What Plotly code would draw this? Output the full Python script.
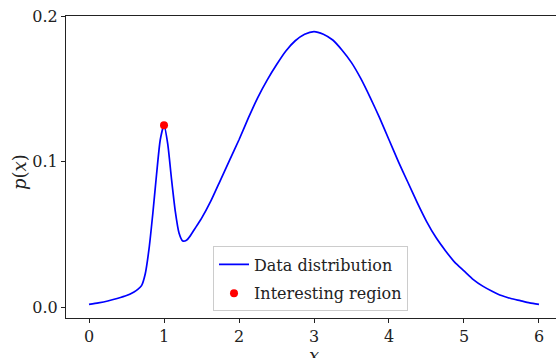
import plotly.graph_objects as go

# values
x_vals = [0.0, 0.125, 0.25, 0.375, 0.5, 0.6, 0.65, 0.7, 0.75, 0.8, 0.85, 0.9, 0.95, 1.0,
          1.05, 1.1, 1.15, 1.2, 1.25, 1.3, 1.35, 1.4, 1.45, 1.5, 1.625, 1.75, 1.875,
          2.0, 2.125, 2.25, 2.375, 2.5, 2.625, 2.75, 2.875, 3.0, 3.125, 3.25, 3.375,
          3.5, 3.625, 3.75, 3.875, 4.0, 4.125, 4.25, 4.375, 4.5, 4.625, 4.75, 4.875,
          5.0, 5.125, 5.25, 5.375, 5.5, 5.625, 5.75, 5.875, 6.0]
p_vals = [0.0020, 0.0030, 0.0043, 0.0060, 0.0080, 0.0105, 0.0122, 0.0148, 0.0230, 0.0400,
          0.0640, 0.0910, 0.1150, 0.1250, 0.1120, 0.0880, 0.0660, 0.0510, 0.0455, 0.0460,
          0.0490, 0.0530, 0.0570, 0.0610, 0.0730, 0.0870, 0.1010, 0.1150, 0.1300, 0.1440,
          0.1560, 0.1665, 0.1760, 0.1830, 0.1875, 0.1893, 0.1875, 0.1835, 0.1765, 0.1680,
          0.1570, 0.1440, 0.1300, 0.1150, 0.1000, 0.0860, 0.0720, 0.0590, 0.0480, 0.0390,
          0.0310, 0.0250, 0.0190, 0.0145, 0.0110, 0.0080, 0.0060, 0.0045, 0.0030, 0.0020]
point_x = [1.0]
point_y = [0.125]
x_ticks = [0, 1, 2, 3, 4, 5, 6]
y_ticks = [0.0, 0.1, 0.2]
y_tick_text = ["0.0", "0.1", "0.2"]

FONT = "DejaVu Serif"

fig = go.Figure()
fig.add_trace(go.Scatter(x=x_vals, y=p_vals, mode="lines", name="Data distribution",
                         legendgroup="a",
                         line=dict(color="#0000ff", width=1.7, shape="spline", smoothing=0.6)))
fig.add_trace(go.Scatter(x=point_x, y=point_y, mode="markers", name="Interesting region",
                         legendgroup="b",
                         marker=dict(color="#ff0000", size=8)))

fig.update_layout(
    width=556, height=358,
    margin=dict(l=66, r=0, t=16, b=40),
    paper_bgcolor="white", plot_bgcolor="white",
    font=dict(family=FONT, size=16, color="#222222"),
    showlegend=True,
    legend=dict(x=0.300, y=0.237, xanchor="left", yanchor="top",
                bgcolor="rgba(255,255,255,0.9)", bordercolor="#cccccc", borderwidth=1,
                font=dict(family=FONT, size=16, color="#222222"),
                tracegroupgap=5),
    xaxis=dict(range=[-0.307, 6.227], tickvals=x_ticks, ticks="outside", ticklen=4,
               tickcolor="#222222", showline=True, linecolor="#222222", linewidth=1.2,
               mirror=True, showgrid=False, zeroline=False,
               tickfont=dict(family=FONT, size=16)),
    yaxis=dict(range=[-0.0074, 0.2], tickvals=y_ticks, ticktext=y_tick_text,
               ticks="outside", ticklen=4, tickcolor="#222222", showline=True,
               linecolor="#222222", linewidth=1.2, showgrid=False, zeroline=False,
               tickfont=dict(family=FONT, size=16)),
    annotations=[
        dict(text="<i>p</i>(<i>x</i>)", xref="paper", yref="paper", x=-0.095, y=0.485,
             xanchor="center", yanchor="middle", textangle=-90, showarrow=False,
             font=dict(family=FONT, size=18, color="#222222")),
        dict(text="<i>x</i>", xref="paper", yref="paper", x=(314 - 66) / 490, y=-0.083,
             xanchor="center", yanchor="top", showarrow=False,
             font=dict(family=FONT, size=18, color="#222222")),
    ],
)

fig.write_html("out.html")
